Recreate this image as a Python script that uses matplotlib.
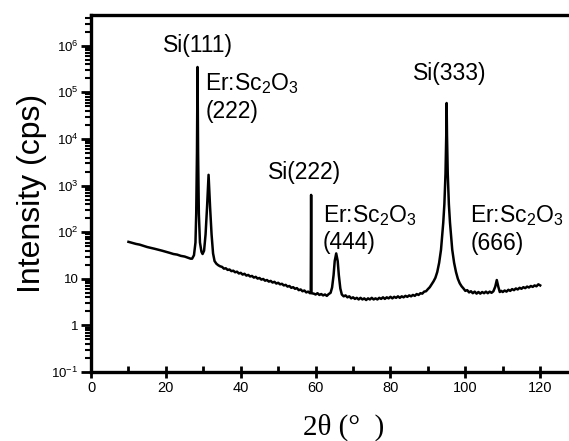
import matplotlib
matplotlib.use("Agg")
import matplotlib.pyplot as plt
from matplotlib.ticker import FixedLocator, LogLocator, MultipleLocator, NullFormatter

plt.rcParams['font.family'] = ['Liberation Sans', 'DejaVu Sans']
plt.rcParams['mathtext.fontset'] = 'custom'
plt.rcParams['mathtext.rm'] = 'Liberation Sans'
plt.rcParams['mathtext.it'] = 'Liberation Sans:italic'

# XRD pattern (2theta in degrees, intensity in cps)
two_theta = [
    10, 11, 12, 13, 14, 15, 16, 17, 18, 19, 20, 21, 22, 23, 24, 25, 26, 26.6,
    27.0, 27.5, 27.9, 28.1, 28.3, 28.45, 28.6, 28.8, 29.1, 29.5, 29.8, 30.2,
    30.6, 31.0, 31.4, 31.8, 32.2, 32.6,
    33.0, 33.5, 34.0, 34.5, 35.0, 35.5, 36.0, 36.5, 37.0, 37.5, 38.0, 38.5,
    39.0, 39.5, 40.0, 40.5, 41.0, 41.5, 42.0, 42.5, 43.0, 43.5, 44.0, 44.5,
    45.0, 45.5, 46.0, 46.5, 47.0, 47.5, 48.0, 48.5, 49.0, 49.5, 50.0, 50.5,
    51.0, 51.5, 52.0, 52.5, 53.0, 53.5, 54.0, 54.5, 55.0, 55.5, 56.0, 56.5,
    57.0, 57.5, 58.0, 58.5, 58.7, 58.8, 58.9,
    59.5, 60.0, 60.5, 61.0, 61.5, 62.0, 62.5, 63.0, 63.5, 64.0, 64.4, 64.8,
    65.1, 65.5, 65.9, 66.2, 66.6, 67.0, 67.5, 68.0, 68.5, 69.0, 69.5, 70.0,
    70.5, 71.0, 71.5, 72.0, 72.5, 73.0, 73.5, 74.0, 74.5, 75.0, 75.5, 76.0,
    76.5, 77.0, 77.5, 78.0, 78.5, 79.0, 79.5, 80.0, 80.5, 81.0, 81.5, 82.0,
    82.5, 83.0, 83.5, 84.0, 84.5, 85.0, 85.5, 86.0, 86.5, 87.0, 87.5, 88.0,
    88.5, 89.0, 89.5, 90.0, 90.5, 91.0, 91.5, 92.0, 92.5, 93.0, 93.5, 93.8,
    94.1, 94.4, 94.7, 94.9, 95.0, 95.1, 95.3, 95.6, 95.9, 96.2, 96.5, 97.0,
    97.5, 98.0, 98.5, 99.0, 99.5, 100.0, 100.5, 101.0, 101.5, 102.0, 102.5,
    103.0, 103.5, 104.0, 104.5, 105.0, 105.5, 106.0, 106.5, 107.0, 107.5,
    108.0, 108.4, 108.8, 109.2, 109.6, 110.0, 110.5, 111.0, 111.5, 112.0,
    112.5, 113.0, 113.5, 114.0, 114.5, 115.0, 115.5, 116.0, 116.5, 117.0,
    117.5, 118.0, 118.5, 119.0, 119.5, 120.0,
]
intensity = [
    62, 59, 56, 54, 51, 48, 46, 44, 42, 40, 38, 36, 34, 33, 31, 30, 28, 27,
    27, 32, 60, 250, 5000, 350000, 5000, 250, 60, 38, 34, 40,
    90, 350, 1700, 350, 90, 35,
    24, 21, 19.5, 18.5, 18, 16.5, 16.8, 15.5, 15.8, 14.6, 14.9, 13.8,
    14.2, 13.0, 13.4, 12.3, 12.8, 11.7, 12.1, 11.2, 11.5, 10.6, 11.0, 10.1,
    10.4, 9.6, 9.9, 9.1, 9.4, 8.7, 9.0, 8.3, 8.6, 7.9, 8.2, 7.6,
    7.8, 7.2, 7.4, 6.8, 7.0, 6.4, 6.6, 6.1, 6.3, 5.7, 5.9, 5.4,
    5.6, 5.1, 5.3, 4.9, 5.0, 630, 4.9,
    4.8, 4.6, 4.9, 4.5, 4.7, 4.4, 4.6, 4.3, 4.7, 5.0, 6.5, 12,
    24, 35, 24, 12, 6.2, 4.6, 4.2, 4.4, 4.0, 4.2, 3.8, 4.0,
    3.7, 3.9, 3.6, 3.9, 3.6, 3.8, 3.5, 3.8, 3.6, 3.9, 3.6, 3.8,
    3.6, 3.9, 3.7, 4.0, 3.7, 4.0, 3.8, 4.1, 3.8, 4.1, 3.9, 4.2,
    3.9, 4.2, 4.0, 4.3, 4.1, 4.4, 4.2, 4.5, 4.3, 4.7, 4.5, 4.9,
    4.8, 5.3, 5.4, 6.0, 6.6, 7.6, 8.8, 10.5, 14, 22, 42, 80,
    160, 400, 1800, 12000, 59000, 12000, 1800, 400, 160, 80, 42, 22,
    14, 10, 8.0, 6.9, 6.2, 5.5, 5.7, 5.1, 5.4, 4.9, 5.3,
    4.8, 5.2, 4.8, 5.2, 4.9, 5.3, 4.9, 5.3, 5.0, 5.4,
    6.8, 9.4, 6.8, 5.2, 5.5, 5.2, 5.6, 5.3, 5.8, 5.5,
    6.0, 5.7, 6.2, 5.9, 6.4, 6.1, 6.6, 6.3, 6.8, 6.5,
    7.0, 6.7, 7.2, 6.9, 7.6, 7.2,
]

# peak labels: text, x, y (data units)
peak_labels = ['Si(111)', 'Er:Sc$_2$O$_3$\n(222)', 'Si(222)',
               'Er:Sc$_2$O$_3$\n(444)', 'Si(333)', 'Er:Sc$_2$O$_3$\n(666)']
label_x = [19.3, 30.5, 47.3, 62.0, 86.1, 101.3]
label_y = [1.0e6, 8.0e4, 1.95e3, 1.2e2, 2.6e5, 1.17e2]

ytick_vals = [1e-1, 1, 10, 1e2, 1e3, 1e4, 1e5, 1e6]
ytick_labels = ['$10^{-1}$', '1', '10', '$10^{2}$', '$10^{3}$',
                '$10^{4}$', '$10^{5}$', '$10^{6}$']

fig = plt.figure(figsize=(5.69, 4.41), dpi=100)
ax = fig.add_axes([0.160, 0.1565, 0.842, 0.8095])

ax.plot(two_theta, intensity, color='black', lw=1.8)
ax.set_yscale('log')
ax.set_xlim(0, 128)
ax.set_ylim(1e-1, 10 ** 6.66)

for txt, x, y in zip(peak_labels, label_x, label_y):
    ax.text(x, y, txt, fontsize=16.5, ha='left', va='center', linespacing=1.2)

ax.yaxis.set_major_locator(FixedLocator(ytick_vals))
ax.set_yticklabels(ytick_labels)
ax.yaxis.set_minor_locator(LogLocator(base=10, subs=range(2, 10), numticks=20))
ax.yaxis.set_minor_formatter(NullFormatter())
ax.xaxis.set_major_locator(MultipleLocator(20))
ax.xaxis.set_minor_locator(MultipleLocator(10))

ax.tick_params(axis='y', which='major', direction='out', length=7, width=2, labelsize=9.5, pad=2)
ax.tick_params(axis='y', which='minor', direction='out', length=4, width=1.5)
ax.tick_params(axis='x', which='major', direction='inout', length=9, width=2, labelsize=10.5, pad=2)
ax.tick_params(axis='x', which='minor', direction='in', length=4, width=2)

for side in ['left', 'bottom', 'top']:
    ax.spines[side].set_linewidth(2.4)
ax.spines['right'].set_visible(False)

ax.set_ylabel('Intensity (cps)', fontsize=23, labelpad=3)
ax.set_xlabel('2θ (°  )', fontsize=21, family=['Liberation Serif', 'DejaVu Serif'])
ax.xaxis.set_label_coords(0.528, -0.118)

fig.savefig('out.png', dpi=100)
